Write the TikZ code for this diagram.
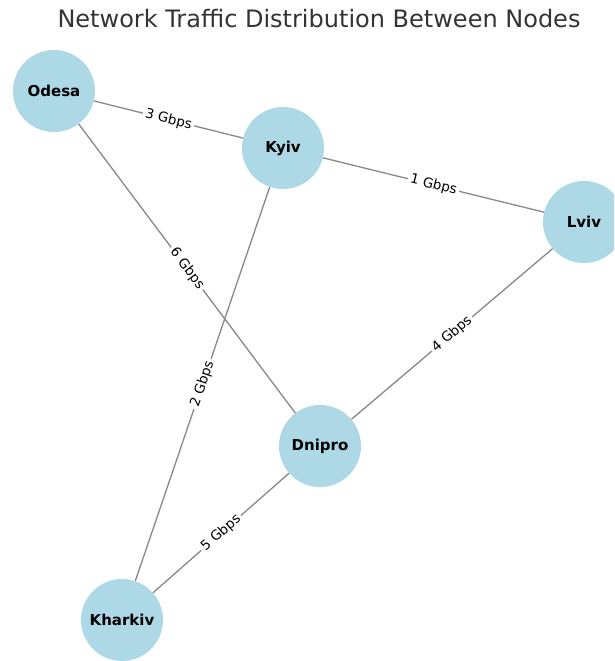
\documentclass[tikz,border=0pt]{standalone}
\usepackage{fontspec}
\setmainfont{DejaVu Sans}
\definecolor{nodeblue}{HTML}{ADD8E6}
\definecolor{edgegray}{HTML}{888888}
\definecolor{titlegray}{HTML}{333333}
\begin{document}
\begin{tikzpicture}[x=1pt,y=-1pt,
  city/.style={circle,fill=nodeblue,minimum size=82pt,inner sep=0pt,font=\fontsize{15}{17}\selectfont\bfseries},
  link/.style={draw=edgegray,line width=1.3pt},
  rate/.style={midway,sloped,fill=white,inner sep=2.5pt,font=\fontsize{13.5}{15}\selectfont}]
\useasboundingbox (0,0) rectangle (614,661);
\clip (0,0) rectangle (614,661);
\node[font=\fontsize{24}{28}\selectfont,text=titlegray] (title) at (319,19) {Network Traffic Distribution Between Nodes};
\node[city] (odesa) at (54,91) {Odesa};
\node[city] (kyiv) at (283,148) {Kyiv};
\node[city] (lviv) at (584,222) {Lviv};
\node[city] (dnipro) at (320,446) {Dnipro};
\node[city] (kharkiv) at (122,620) {Kharkiv};
\path[link] (odesa) -- node[rate] {3 Gbps} (kyiv);
\path[link] (kyiv) -- node[rate] {1 Gbps} (lviv);
\path[link] (odesa) -- node[rate] {6 Gbps} (dnipro);
\path[link] (kyiv) -- node[rate] {2 Gbps} (kharkiv);
\path[link] (dnipro) -- node[rate] {4 Gbps} (lviv);
\path[link] (dnipro) -- node[rate] {5 Gbps} (kharkiv);
\end{tikzpicture}
\end{document}
